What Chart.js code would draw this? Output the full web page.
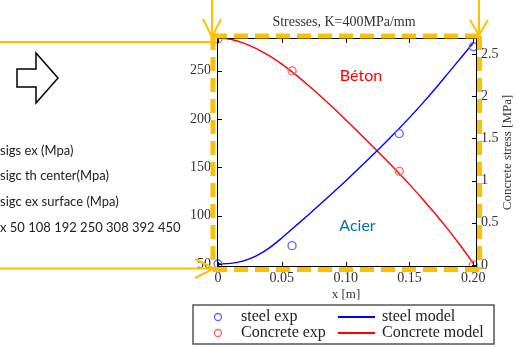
<!DOCTYPE html>
<html>
<head>
<meta charset="utf-8">
<script src="https://cdn.jsdelivr.net/npm/chart.js@4.4.1/dist/chart.umd.min.js"></script>
<style>
  html, body { margin: 0; padding: 0; background: #fff; }
  #wrap { position: relative; width: 519px; height: 347px; overflow: hidden; }
</style>
</head>
<body>
<div id="wrap"><canvas id="myChart" width="519" height="347"></canvas></div>
<script>
const xExp = [0, 0.058, 0.142, 0.2];
const steelExp = [50, 69, 185, 275];
const concreteExp = [2.68, 2.30, 1.11, 0.0];

const xModel = [0, 0.01, 0.02, 0.03, 0.04, 0.05, 0.06, 0.07, 0.08, 0.09, 0.10,
                0.11, 0.12, 0.13, 0.14, 0.15, 0.16, 0.17, 0.18, 0.19, 0.20];
const steelModel = [50, 50.7, 53.3, 58.5, 66.5, 77, 88.5, 100, 111.8, 123.8, 136,
                    148.5, 161.2, 174.2, 187.6, 201.5, 216, 231.2, 247, 263, 279];
const concreteModel = [2.69, 2.675, 2.63, 2.565, 2.48, 2.38, 2.265, 2.14, 2.005, 1.865, 1.72,
                       1.572, 1.422, 1.27, 1.115, 0.955, 0.785, 0.61, 0.425, 0.228, 0.02];

// Graduations
const xTicks = [0, 0.05, 0.1, 0.15, 0.2];
const xTickLabels = ["0", "0.05", "0.10", "0.15", "0.20"];
const yTicks = [50, 100, 150, 200, 250];
const yTickLabels = ["50", "100", "150", "200", "250"];
const y1Ticks = [0, 0.5, 1, 1.5, 2, 2.5];
const y1TickLabels = ["0", "0.5", "1", "1.5", "2", "2.5"];

// Textes
const legendLabels = ["steel exp", "steel model", "Concrete exp", "Concrete model"];
const leftNotes = ["sigs ex (Mpa)", "sigc th center(Mpa)", "sigc ex surface (Mpa)", "x 50 108 192 250 308 392 450"];

const ORANGE = "#FFC000";
const BLUE_PT = "#6464ff";
const RED_PT = "#ff6464";
const SERIF = '"Liberation Serif", "DejaVu Serif", serif';
const SANS = 'Lato, "Open Sans", sans-serif';

function toPoints(xs, ys) {
  return xs.map((x, i) => ({ x: x, y: ys[i] }));
}

function line(ctx, x1, y1, x2, y2) {
  ctx.beginPath();
  ctx.moveTo(x1, y1);
  ctx.lineTo(x2, y2);
  ctx.stroke();
}

// Dessin des annotations (cadre, flèches, textes, légende)
const decor = {
  id: "decor",
  afterDraw(chart) {
    const { ctx, chartArea: a, scales } = chart;
    ctx.save();

    // cadre noir + graduations vers l'intérieur
    ctx.strokeStyle = "#000";
    ctx.lineWidth = 1;
    ctx.strokeRect(a.left + 0.5, a.top + 0.5, a.right - a.left - 1, a.bottom - a.top - 1);
    yTicks.forEach((v) => {
      const y = Math.round(scales.y.getPixelForValue(v)) + 0.5;
      line(ctx, a.left, y, a.left + 5, y);
    });
    y1Ticks.forEach((v) => {
      const y = Math.round(scales.y1.getPixelForValue(v)) + 0.5;
      line(ctx, a.right - 5, y, a.right, y);
    });
    xTicks.forEach((v) => {
      const x = Math.round(scales.x.getPixelForValue(v)) + 0.5;
      line(ctx, x, a.bottom, x, a.bottom - 5);
      line(ctx, x, a.top, x, a.top + 5);
    });

    // rectangle pointillé orange
    ctx.strokeStyle = ORANGE;
    ctx.lineWidth = 5;
    ctx.setLineDash([14, 7]);
    const L = a.left - 4, R = a.right + 2.5, T = a.top - 2, B = a.bottom + 2.5;
    line(ctx, L, T, R, T);
    line(ctx, L, T, L, B);
    line(ctx, R, T, R, B);
    line(ctx, L, B, R, B);
    ctx.setLineDash([]);

    // traits et flèches orange
    ctx.lineWidth = 2;
    line(ctx, 212, 0, 212, 37);
    line(ctx, 203, 19, 212, 37);
    line(ctx, 221, 19, 212, 37);
    line(ctx, 479, 0, 479, 35);
    line(ctx, 470, 20, 479, 35);
    line(ctx, 488, 20, 479, 35);
    line(ctx, 0, 42, 212, 42);
    line(ctx, 0, 268.5, 214, 268.5);
    line(ctx, 195, 259, 214, 268.5);
    line(ctx, 195, 278, 214, 268.5);

    // flèche à droite (contour)
    ctx.strokeStyle = "#000";
    ctx.lineWidth = 1.5;
    ctx.beginPath();
    ctx.moveTo(17, 69);
    ctx.lineTo(36, 69);
    ctx.lineTo(36, 53);
    ctx.lineTo(58, 78);
    ctx.lineTo(36, 103);
    ctx.lineTo(36, 87);
    ctx.lineTo(17, 87);
    ctx.closePath();
    ctx.stroke();

    // notes à gauche
    ctx.fillStyle = "#222";
    ctx.font = "13px " + SANS;
    ctx.textAlign = "left";
    ctx.textBaseline = "middle";
    [151, 175.5, 202, 228].forEach((y, i) => ctx.fillText(leftNotes[i], 0, y));

    // titre et titres d'axes
    ctx.fillStyle = "#333";
    ctx.textAlign = "center";
    ctx.font = "14px " + SERIF;
    ctx.fillText("Stresses, K=400MPa/mm", 344, 22);
    ctx.font = "13px " + SERIF;
    ctx.fillText("x [m]", 346, 295);
    ctx.save();
    ctx.translate(508, 152.5);
    ctx.rotate(-Math.PI / 2);
    ctx.fillText("Concrete stress [MPa]", 0, 0);
    ctx.restore();

    // étiquettes Béton / Acier
    ctx.font = "16px " + SANS;
    ctx.fillStyle = "#FF0000";
    ctx.fillText("Béton", 361, 76);
    ctx.fillStyle = "#0070C0";
    ctx.fillText("Acier", 357.5, 226);

    // légende
    ctx.strokeStyle = "#555";
    ctx.lineWidth = 1.5;
    ctx.strokeRect(193, 305, 301, 39);
    ctx.lineWidth = 1.3;
    ctx.strokeStyle = BLUE_PT;
    ctx.beginPath(); ctx.arc(218, 317, 3.5, 0, Math.PI * 2); ctx.stroke();
    ctx.strokeStyle = RED_PT;
    ctx.beginPath(); ctx.arc(218, 333, 3.5, 0, Math.PI * 2); ctx.stroke();
    ctx.lineWidth = 2;
    ctx.strokeStyle = "#0000FF";
    line(ctx, 338, 317, 375, 317);
    ctx.strokeStyle = "#FF0000";
    line(ctx, 338, 333, 375, 333);
    ctx.fillStyle = "#222";
    ctx.font = "16px " + SERIF;
    ctx.textAlign = "left";
    ctx.fillText(legendLabels[0], 241, 317);
    ctx.fillText(legendLabels[1], 382, 317);
    ctx.fillText(legendLabels[2], 241, 333);
    ctx.fillText(legendLabels[3], 382, 333);

    ctx.restore();
  },
};

const tickFont = { family: SERIF, size: 14 };

new Chart(document.getElementById("myChart"), {
  type: "scatter",
  data: {
    datasets: [
      {
        label: legendLabels[0],
        data: toPoints(xExp, steelExp),
        yAxisID: "y",
        pointRadius: 4,
        pointBorderWidth: 1.3,
        pointBorderColor: BLUE_PT,
        pointBackgroundColor: "rgba(0,0,0,0)",
        clip: false,
      },
      {
        label: legendLabels[2],
        data: toPoints(xExp, concreteExp),
        yAxisID: "y1",
        pointRadius: 4,
        pointBorderWidth: 1.3,
        pointBorderColor: RED_PT,
        pointBackgroundColor: "rgba(0,0,0,0)",
        clip: false,
      },
      {
        label: legendLabels[1],
        data: toPoints(xModel, steelModel),
        yAxisID: "y",
        showLine: true,
        borderColor: "#0000FF",
        borderWidth: 1.4,
        pointRadius: 0,
        cubicInterpolationMode: "monotone",
      },
      {
        label: legendLabels[3],
        data: toPoints(xModel, concreteModel),
        yAxisID: "y1",
        showLine: true,
        borderColor: "#FF0000",
        borderWidth: 1.4,
        pointRadius: 0,
        cubicInterpolationMode: "monotone",
      },
    ],
  },
  options: {
    responsive: false,
    animation: false,
    layout: { padding: { top: 38, left: 0, right: 0, bottom: 0 } },
    plugins: {
      legend: { display: false },
      title: { display: false },
      tooltip: { enabled: false },
    },
    scales: {
      x: {
        type: "linear",
        min: -0.0008,
        max: 0.2029,
        grid: { display: false, drawTicks: false },
        border: { display: false },
        afterBuildTicks: (s) => { s.ticks = xTicks.map((v) => ({ value: v })); },
        afterFit: (s) => { s.height = 80; },
        ticks: {
          font: tickFont,
          color: "#333",
          padding: 3,
          maxRotation: 0,
          callback: (v, i) => xTickLabels[i],
        },
      },
      y: {
        position: "left",
        min: 46.9,
        max: 283.9,
        grid: { display: false, drawTicks: false },
        border: { display: false },
        afterBuildTicks: (s) => { s.ticks = yTicks.map((v) => ({ value: v })); },
        afterFit: (s) => { s.width = 217; },
        ticks: {
          font: tickFont,
          color: "#333",
          padding: 6,
          callback: (v, i) => yTickLabels[i],
        },
      },
      y1: {
        position: "right",
        min: -0.024,
        max: 2.69,
        grid: { display: false, drawTicks: false },
        border: { display: false },
        afterBuildTicks: (s) => { s.ticks = y1Ticks.map((v) => ({ value: v })); },
        afterFit: (s) => { s.width = 42; },
        ticks: {
          font: tickFont,
          color: "#333",
          padding: 4,
          callback: (v, i) => y1TickLabels[i],
        },
      },
    },
  },
  plugins: [decor],
});
</script>
</body>
</html>
